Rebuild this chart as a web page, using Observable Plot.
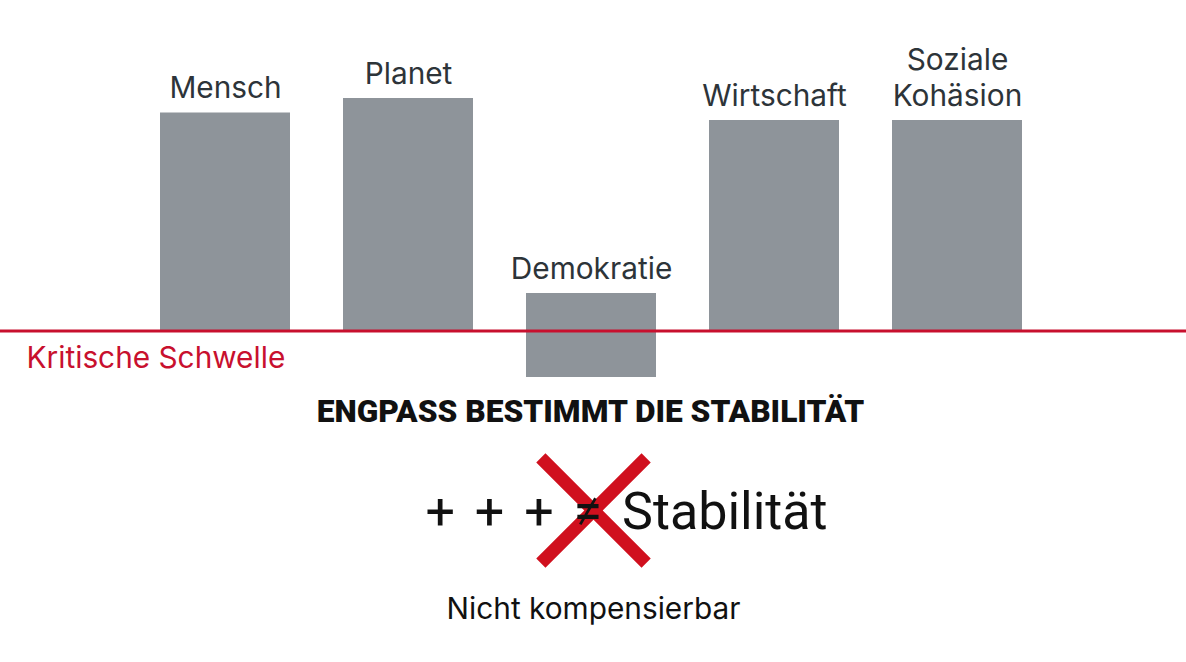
<!DOCTYPE html>
<html>
<head>
<meta charset="utf-8">
<script src="https://cdn.jsdelivr.net/npm/d3@7"></script>
<script src="https://cdn.jsdelivr.net/npm/@observablehq/plot@0.6"></script>
<style>
  html, body { margin: 0; padding: 0; background: #ffffff; }
  #chart { width: 1186px; height: 662px; overflow: hidden; }
</style>
</head>
<body>
<div id="chart"></div>
<script>
// Dimensions (categories) and bar extents relative to the critical threshold (0)
const categories = ["Mensch", "Planet", "Demokratie", "Wirtschaft", "Soziale Kohäsion"];
const labels = ["Mensch", "Planet", "Demokratie", "Wirtschaft", "Soziale\nKohäsion"];
const topValues = [21.8, 23.25, 3.75, 21.05, 21.05];
const bottomValues = [0, 0, -4.65, 0, 0];
const threshold = [0];
const thresholdLabel = ["Kritische Schwelle"];
const headline = ["ENGPASS BESTIMMT DIE STABILITÄT"];
const formula = ["+ + + ≠ Stabilität"];
const footnote = ["Nicht kompensierbar"];

const data = categories.map((c, i) => ({
  cat: c, label: labels[i], top: topValues[i], bottom: bottomValues[i]
}));

const red = "#c8102e";
const grey = "#8e949a";
const ink = "#2d3439";

const chart = Plot.plot({
  width: 1186,
  height: 662,
  marginTop: 0, marginRight: 0, marginBottom: 0, marginLeft: 0,
  style: { fontFamily: "Inter, Roboto, sans-serif", background: "#ffffff" },
  x: { type: "band", domain: categories, range: [133.5, 1048.5], paddingInner: 0.29, paddingOuter: 0.145, axis: null },
  y: { domain: [-33.15, 33.05], range: [662, 0], axis: null },
  marks: [
    Plot.barY(data, { x: "cat", y1: "bottom", y2: "top", fill: grey }),
    Plot.ruleY(threshold, { stroke: red, strokeWidth: 3 }),
    Plot.text(data, {
      x: "cat", y: "top", text: "label", dy: -15, lineAnchor: "bottom",
      lineHeight: 1.18, fontSize: 29.8, fill: ink
    }),
    Plot.text(thresholdLabel, {
      y: threshold, text: d => d, frameAnchor: "left", textAnchor: "start",
      lineAnchor: "bottom", dx: 26, dy: 37, fontSize: 29.8, fill: red
    }),
    Plot.text(headline, {
      text: d => d, frameAnchor: "top", lineAnchor: "bottom", dx: -3, dy: 421,
      fontSize: 31.7, fontWeight: 900, fill: "#111111",
      fontFamily: "Roboto, sans-serif"
    }),
    Plot.dot([0], {
      frameAnchor: "top", dy: 510, symbol: "times", r: 48,
      stroke: "#d0101e", strokeWidth: 13
    }),
    Plot.text(formula, {
      text: d => d, frameAnchor: "top", lineAnchor: "bottom", dx: 33, dy: 528,
      fontSize: 52, fill: "#111111", fontFamily: "Roboto, sans-serif"
    }),
    Plot.text(footnote, {
      text: d => d, frameAnchor: "top", lineAnchor: "bottom", dx: 0, dy: 618,
      fontSize: 29.8, fill: "#111111"
    })
  ]
});

d3.select(chart).selectAll("text")
  .filter(function () { return this.textContent === formula[0]; })
  .style("word-spacing", "7px");

document.getElementById("chart").appendChild(chart);
</script>
</body>
</html>
